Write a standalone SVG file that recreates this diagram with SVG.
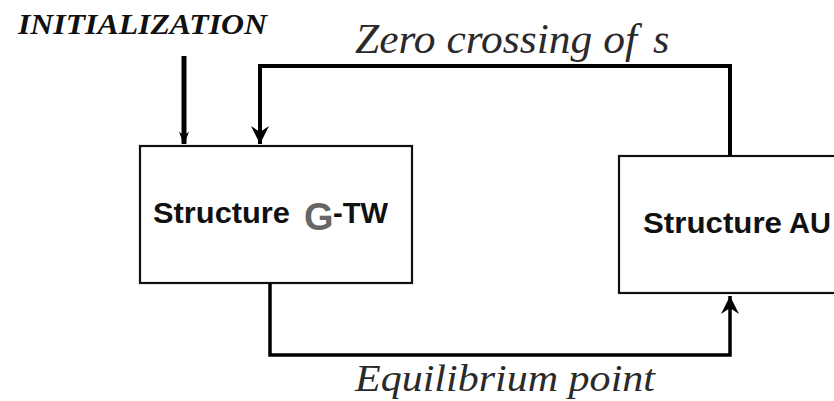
<svg xmlns="http://www.w3.org/2000/svg" width="834" height="401" viewBox="0 0 834 401">
<style>
.box{fill:#fff;stroke:#111;stroke-width:2.2}
.lbl{font-family:"Liberation Sans",Arial,sans-serif;font-weight:bold;font-size:29px;fill:#111}
.ital{font-family:"Liberation Serif","Times New Roman",serif;font-style:italic;fill:#2a2a2a}
.wire{fill:none;stroke:#000;stroke-linejoin:miter}
</style>
<defs>
<marker id="ah" viewBox="-20 -11 21 22" refX="0" refY="0" markerWidth="21" markerHeight="22" markerUnits="userSpaceOnUse" orient="auto">
<path d="M0,0 L-18,-9 L-12,0 L-18,9 Z" fill="#000"/>
</marker>
<marker id="ahs" viewBox="-14 -7 15 14" refX="0" refY="0" markerWidth="15" markerHeight="14" markerUnits="userSpaceOnUse" orient="auto">
<path d="M0,0 L-12,-5 L-9,0 L-12,5 Z" fill="#000"/>
</marker>
</defs>
<g id="init-label">
<text x="18" y="34" font-family="'Liberation Serif','Times New Roman',serif" font-style="italic" font-weight="bold" font-size="30" fill="#111" textLength="249" lengthAdjust="spacingAndGlyphs">INITIALIZATION</text>
</g>
<g id="gtw">
<rect class="box" x="140" y="146" width="272" height="137"/>
<text class="lbl" x="153" y="223" textLength="137" lengthAdjust="spacingAndGlyphs">Structure</text>
<text x="304" y="230" font-family="'Liberation Sans',Arial,sans-serif" font-weight="bold" font-size="38" fill="#666">G</text>
<text class="lbl" x="333" y="223" textLength="55" lengthAdjust="spacingAndGlyphs">-TW</text>
</g>
<g id="au">
<rect class="box" x="619" y="156" width="240" height="137"/>
<text class="lbl" x="643" y="233" textLength="139" lengthAdjust="spacingAndGlyphs">Structure</text>
<text class="lbl" x="789" y="233">AU</text>
</g>
<g id="connectors">
<path class="wire" d="M184,56 V144" stroke-width="5" marker-end="url(#ahs)"/>
<path class="wire" d="M730,156 V66 H260 V144" stroke-width="4" marker-end="url(#ah)"/>
<path class="wire" d="M270,283 V355 H730 V296" stroke-width="3.5" marker-end="url(#ah)"/>
</g>
<g id="edge-labels">
<text class="ital" x="355" y="53" font-size="42"><tspan textLength="282" lengthAdjust="spacingAndGlyphs">Zero crossing of</tspan><tspan x="653">s</tspan></text>
<text class="ital" x="355" y="391" font-size="38" textLength="300" lengthAdjust="spacingAndGlyphs">Equilibrium point</text>
</g>
</svg>
